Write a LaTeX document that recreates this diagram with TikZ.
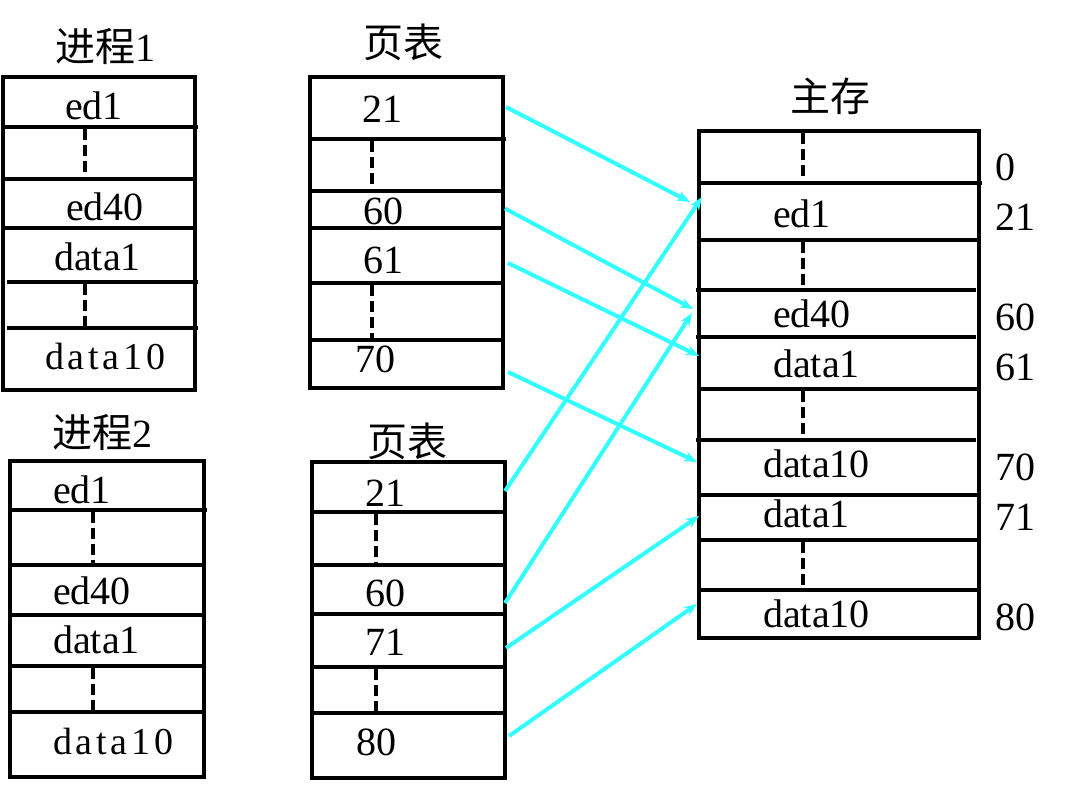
\documentclass[tikz,border=0pt]{standalone}
\usepackage{fontspec}
\setmainfont{Liberation Serif}
\newfontfamily\spacedf{Liberation Serif}[LetterSpace=10]
\newfontfamily\cjk{Noto Sans CJK SC}
\usetikzlibrary{arrows.meta,calc}
\definecolor{linkcyan}{RGB}{51,255,255}
\begin{document}
\begin{tikzpicture}[x=1pt,y={(0pt,-1pt)},
  frame/.style={line width=4.5pt,black},
  sepline/.style={line width=4.5pt,black},
  gap/.style={line width=4.5pt,black,dash pattern=on 11pt off 5pt},
  cell/.style={inner sep=0pt,outer sep=0pt,draw=none,minimum width=#1},
  txt/.style={inner sep=0pt,anchor=base west,font=\fontsize{40}{44}\selectfont},
  mtxt/.style={inner sep=0pt,anchor=base west,font=\fontsize{38}{44}\selectfont\spacedf},
  title/.style={inner sep=0pt,anchor=base west,font=\fontsize{40}{44}\selectfont},
  link/.style={linkcyan,line width=4pt,-{Stealth[length=13pt,width=10pt]}}]
\useasboundingbox (0,0) rectangle (1075,789);

% ---------- process 1 ----------
\node[title] (t1) at (55,62) {{\cjk 进程}1};
\draw[frame] (3,77) rectangle (195,390);
\draw[sepline] (3,127) -- (198,127);
\draw[sepline] (3,179) -- (195,179);
\draw[sepline] (3,228) -- (195,228);
\draw[sepline] (7,282) -- (198,282);
\draw[sepline] (7,328) -- (198,328);
\draw[gap] (85,129) -- (85,179);
\draw[gap] (85,284) -- (85,328);
\node[txt]  (p1a) at (65,120) {ed1};
\node[txt]  (p1b) at (66,220) {ed40};
\node[txt]  (p1c) at (54,270) {data1};
\node[mtxt] (p1d) at (45,369) {data10};

% ---------- page table 1 ----------
\node[title] (t2) at (363,58) {\cjk 页表};
\draw[frame] (310,77) rectangle (503,388);
\draw[sepline] (310,139) -- (506,139);
\draw[sepline] (310,191) -- (503,191);
\draw[sepline] (310,228) -- (503,228);
\draw[sepline] (310,283) -- (503,283);
\draw[sepline] (310,340) -- (503,340);
\draw[gap] (372,141) -- (372,191);
\draw[gap] (372,285) -- (372,340);
\node[cell=193pt,minimum height=62pt] (ua) at (406.5,108) {};
\node[cell=193pt,minimum height=37pt] (ub) at (406.5,209.5) {};
\node[cell=193pt,minimum height=55pt] (uc) at (406.5,255.5) {};
\node[cell=193pt,minimum height=48pt] (ud) at (406.5,364) {};
\node[txt] (u21) at (362,123) {21};
\node[txt] (u60) at (363,224) {60};
\node[txt] (u61) at (363,273) {61};
\node[txt] (u70) at (355,372) {70};

% ---------- process 2 ----------
\node[title] (t3) at (52,447) {{\cjk 进程}2};
\draw[frame] (10,461) rectangle (204,777);
\draw[sepline] (10,510) -- (207,510);
\draw[sepline] (10,565) -- (204,565);
\draw[sepline] (10,615) -- (204,615);
\draw[sepline] (10,666) -- (204,666);
\draw[sepline] (10,712) -- (204,712);
\draw[gap] (93,512) -- (93,565);
\draw[gap] (93,668) -- (93,712);
\node[txt]  (p2a) at (53,503) {ed1};
\node[txt]  (p2b) at (53,604) {ed40};
\node[txt]  (p2c) at (53,653) {data1};
\node[mtxt] (p2d) at (53,754) {data10};

% ---------- page table 2 ----------
\node[title] (t4) at (367,456) {\cjk 页表};
\draw[frame] (312,462) rectangle (505,778);
\draw[sepline] (312,512) -- (505,512);
\draw[sepline] (310,565) -- (505,565);
\draw[sepline] (312,614) -- (505,614);
\draw[sepline] (310,667) -- (505,667);
\draw[sepline] (310,713) -- (505,713);
\draw[gap] (376,514) -- (376,565);
\draw[gap] (376,669) -- (376,713);
\node[cell=193pt,minimum height=50pt] (va) at (408.5,487) {};
\node[cell=193pt,minimum height=49pt] (vb) at (408.5,589.5) {};
\node[cell=193pt,minimum height=53pt] (vc) at (408.5,640.5) {};
\node[cell=193pt,minimum height=65pt] (vd) at (408.5,745.5) {};
\node[txt] (v21) at (365,506) {21};
\node[txt] (v60) at (365,606) {60};
\node[txt] (v71) at (365,655) {71};
\node[txt] (v80) at (356,755) {80};

% ---------- main memory ----------
\node[title] (t5) at (790,111) {\cjk 主存};
\draw[frame] (699,131) rectangle (979,638);
\draw[sepline] (699,183) -- (982,183);
\draw[sepline] (699,240) -- (979,240);
\draw[sepline] (696,290) -- (976,290);
\draw[sepline] (696,337) -- (976,337);
\draw[sepline] (699,389) -- (979,389);
\draw[sepline] (696,440) -- (976,440);
\draw[sepline] (699,495) -- (979,495);
\draw[sepline] (699,540) -- (979,540);
\draw[sepline] (699,590) -- (979,590);
\draw[gap] (803,133) -- (803,183);
\draw[gap] (803,242) -- (803,290);
\draw[gap] (803,391) -- (803,440);
\draw[gap] (803,542) -- (803,590);
\node[cell=280pt,minimum height=57pt] (m2)  at (839,211.5) {};
\node[cell=280pt,minimum height=47pt] (m4)  at (839,313.5) {};
\node[cell=280pt,minimum height=52pt] (m5)  at (839,363) {};
\node[cell=280pt,minimum height=55pt] (m7)  at (839,467.5) {};
\node[cell=280pt,minimum height=45pt] (m8)  at (839,517.5) {};
\node[cell=280pt,minimum height=48pt] (m10) at (839,614) {};
\node[txt] (ma) at (773,227) {ed1};
\node[txt] (mb) at (773,327) {ed40};
\node[txt] (mc) at (773,377) {data1};
\node[txt] (md) at (763,477) {data10};
\node[txt] (me) at (763,527) {data1};
\node[txt] (mf) at (763,627) {data10};

% addresses of the frames
\node[txt] (n0)  at (995,180) {0};
\node[txt] (n21) at (995,230) {21};
\node[txt] (n60) at (995,330) {60};
\node[txt] (n61) at (995,380) {61};
\node[txt] (n70) at (995,480) {70};
\node[txt] (n71) at (995,530) {71};
\node[txt] (n80) at (995,630) {80};

% ---------- page-table entries pointing into memory ----------
\draw[link] ([shift={(3,-1)}]ua.east) -- ([shift={(-9,-9.5)}]m2.west);
\draw[link] ([shift={(2,-1)}]ub.east) -- ([shift={(-6,-4.5)}]m4.west);
\draw[link] ([shift={(5,7.5)}]uc.east) -- ([shift={(0,-7)}]m5.west);
\draw[link] ([shift={(5,8)}]ud.east) -- ([shift={(-2,-5.5)}]m7.west);
\draw[link] ([shift={(0,4)}]va.east) -- ([shift={(3,-14.5)}]m2.west);
\draw[link] ([shift={(0,13.5)}]vb.east) -- ([shift={(-7,-0.5)}]m4.west);
\draw[link] ([shift={(1,7.5)}]vc.east) -- ([shift={(0,-1.5)}]m8.west);
\draw[link] ([shift={(4,-9.5)}]vd.east) -- ([shift={(-2,-10)}]m10.west);
\end{tikzpicture}
\end{document}
